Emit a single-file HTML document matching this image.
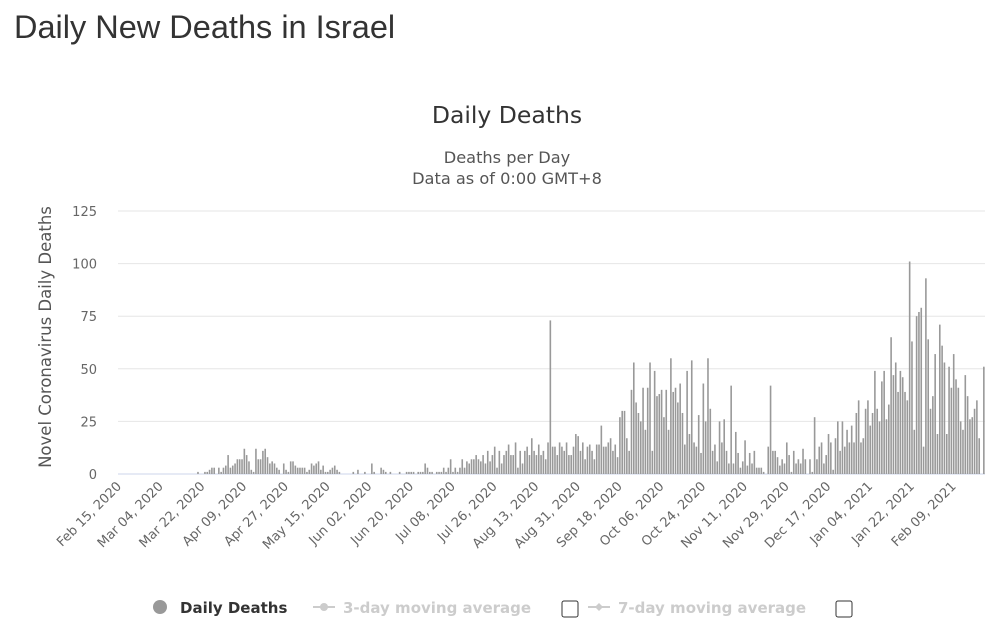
<!DOCTYPE html>
<html><head><meta charset="utf-8">
<style>
body{margin:0;background:#fff;font-family:"DejaVu Sans","Liberation Sans",sans-serif;}
#wrap{position:relative;width:993px;height:634px;overflow:hidden;}
h1{position:absolute;left:14px;top:9px;margin:0;font-weight:normal;font-size:32.5px;color:#333;font-family:"Liberation Sans",Arial,sans-serif;}
svg{position:absolute;left:0;top:0;font-family:"DejaVu Sans",sans-serif;}
</style></head>
<body>
<div id="wrap">
<h1>Daily New Deaths in Israel</h1>
<svg id="chart" width="993" height="634">
<text x="507" y="123" text-anchor="middle" font-size="23.5" fill="#333">Daily Deaths</text>
<text x="507" y="163" text-anchor="middle" font-size="16.2" fill="#555">Deaths per Day</text>
<text x="507" y="184" text-anchor="middle" font-size="16.2" fill="#555">Data as of 0:00 GMT+8</text>
<text transform="translate(51,337) rotate(-90)" text-anchor="middle" font-size="16.5" fill="#555">Novel Coronavirus Daily Deaths</text>
<g id="grid"></g><g id="bars"></g><g id="xlabels"></g>
<g>
<g><circle cx="160" cy="607" r="7" fill="#999"/><text x="180" y="613" font-size="15" font-weight="bold" fill="#333">Daily Deaths</text></g>
<g><line x1="313" y1="607" x2="335" y2="607" stroke="#ccc" stroke-width="2"/><circle cx="324" cy="607" r="4" fill="#ccc"/><text x="343" y="613" font-size="15" font-weight="bold" fill="#ccc">3-day moving average</text></g>
<rect x="562" y="601" width="16" height="16" rx="2" fill="#fff" stroke="#333"/>
<g><line x1="588" y1="607" x2="610" y2="607" stroke="#ccc" stroke-width="2"/><path d="M599 603 L603 607 L599 611 L595 607Z" fill="#ccc"/><text x="618" y="613" font-size="15" font-weight="bold" fill="#ccc">7-day moving average</text></g>
<rect x="836" y="601" width="16" height="16" rx="2" fill="#fff" stroke="#333"/>
</g>
</svg>
</div>
<script>
const deaths = [
0,0,0,0,0,0,0,0,0,0,0,0,0,0,0,0,0,0,0,0,0,0,0,0,0,0,0,0,0,0,0,0,0,0,
1,0,0,1,1,2,3,3,0,3,1,3,4,9,3,4,5,7,7,7,12,9,6,2,1,12,7,7,11,12,8,5,6,5,3,2,0,5,2,1,6,6,4,3,3,3,3,1,2,5,4,5,6,2,4,1,1,2,3,4,2,1,
0,0,0,0,0,1,0,2,0,0,1,0,0,5,1,0,0,3,2,1,0,1,0,0,0,1,0,0,1,1,
1,1,0,1,1,1,5,3,1,1,0,1,1,1,3,1,3,7,1,3,1,3,7,3,6,5,7,7,9,7,6,9,5,11,6,9,13,3,11,5,9,11,14,9,9,15,3,11,5,11,13,9,17,11,9,14,9,11,7,15,73,13,13,9,15,13,11,15,9,9,13,19,18,11,15,7,13,
14,11,7,14,14,23,13,13,15,17,11,14,8,27,30,30,17,11,40,53,34,29,25,41,21,41,53,11,49,37,38,40,27,40,21,55,39,41,34,43,29,14,49,19,54,15,13,28,10,43,25,55,31,11,14,6,25,15,26,11,5,42,5,20,10,3,6,16,4,10,5,11,3,3,3,1,0,13,42,11,11,8,4,
7,5,15,9,1,11,5,7,5,12,7,0,7,1,27,7,13,15,5,9,19,15,2,17,25,11,25,13,21,15,23,15,29,35,15,17,31,35,23,29,49,31,25,44,49,26,33,65,47,53,39,49,46,39,35,101,63,21,75,77,79,13,93,64,31,37,57,19,71,61,53,19,51,41,57,45,41,25,21,47,37,26,27,31,35,17,0,51
];
const yTicks = [0,25,50,75,100,125];
const xTickLabels = ["Feb 15, 2020","Mar 04, 2020","Mar 22, 2020","Apr 09, 2020","Apr 27, 2020","May 15, 2020","Jun 02, 2020","Jun 20, 2020","Jul 08, 2020","Jul 26, 2020","Aug 13, 2020","Aug 31, 2020","Sep 18, 2020","Oct 06, 2020","Oct 24, 2020","Nov 11, 2020","Nov 29, 2020","Dec 17, 2020","Jan 04, 2021","Jan 22, 2021","Feb 09, 2021"];
const tickEvery = 18;

const NS="http://www.w3.org/2000/svg";
const x0=118, x1=985, y0=474, yMax=125, yTop=211;
const n=deaths.length, step=(x1-x0)/n;
const xs=i=>x0+step*(i+0.5);
const ys=v=>y0-(y0-yTop)*v/yMax;
function mk(tag,attrs,parent){const e=document.createElementNS(NS,tag);for(const k in attrs)e.setAttribute(k,attrs[k]);parent.appendChild(e);return e;}
const grid=document.getElementById('grid');
yTicks.forEach(v=>{
  const l=mk('line',{x1:x0,x2:x1,y1:ys(v),y2:ys(v),stroke:v===0?'#ccd6eb':'#e6e6e6','stroke-width':1},grid);
  
  
  const t=mk('text',{x:97,y:ys(v)+5,'text-anchor':'end','font-size':13,fill:'#666'},grid);
  t.textContent=v;
  
  
});
const bars=document.getElementById('bars');
deaths.forEach((v,i)=>{
  if(v<=0)return;
  const b=mk('rect',{x:xs(i)-0.8,y:ys(v),width:1.6,height:y0-ys(v),fill:'#999'},bars);
  
  
});
const xl=document.getElementById('xlabels');
xTickLabels.forEach((s,k)=>{
  const x=xs(k*tickEvery);
  const t=mk('text',{transform:`translate(${x+3},${y0+13}) rotate(-45)`,'text-anchor':'end','font-size':13,fill:'#666'},xl);
  t.textContent=s;
  
  
});
</script>
</body></html>
